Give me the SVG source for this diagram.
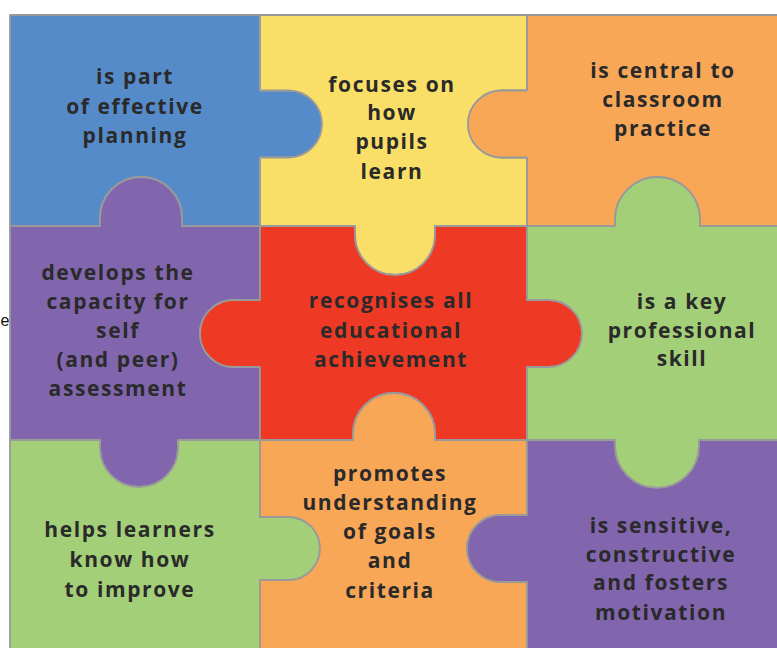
<svg xmlns="http://www.w3.org/2000/svg" width="777" height="648" viewBox="0 0 777 648">
<style>
.p{stroke:#9a9a9a;stroke-width:1.8;stroke-linejoin:round}
.blue{fill:#568bc9}
.yellow{fill:#f9df68}
.orange{fill:#f8a757}
.purple{fill:#8165ad}
.green{fill:#a3cf78}
.red{fill:#ee3a24}
.t{font-family:"Open Sans","DejaVu Sans",sans-serif;font-weight:700;font-size:21px;fill:#2a2a2a;text-anchor:middle;letter-spacing:1.6px}
</style>
<rect width="777" height="648" fill="#ffffff"/>
<text x="0.5" y="326" font-family="Liberation Sans, Arial, sans-serif" font-size="16" fill="#111">e</text>
<g id="piece-blue">
<path class="p blue" d="M10,15 H260 V90.5 H288.5 A33.5,33.5 0 0 1 288.5,157.5 H260 V226 H182 V218 A41,41 0 0 0 100,218 V226 H10 Z"/>
<text class="t" x="135" y="84">is part</text>
<text class="t" x="135" y="114">of effective</text>
<text class="t" x="135" y="143">planning</text>
</g>
<g id="piece-yellow">
<path class="p yellow" d="M260,15 H527 V90.5 H501.5 A33.5,33.5 0 0 0 501.5,157.5 H527 V226 H435 V235 A40,40 0 0 1 355,235 V226 H260 V157.5 H288.5 A33.5,33.5 0 0 0 288.5,90.5 H260 Z"/>
<text class="t" x="392" y="92">focuses on</text>
<text class="t" x="392" y="120">how</text>
<text class="t" x="392" y="149">pupils</text>
<text class="t" x="392" y="179">learn</text>
</g>
<g id="piece-orange-top">
<path class="p orange" d="M527,15 H785 V226 H700 V219.5 A42.5,42.5 0 0 0 615,219.5 V226 H527 V157.5 H501.5 A33.5,33.5 0 0 1 501.5,90.5 H527 Z"/>
<text class="t" x="663" y="78">is central to</text>
<text class="t" x="663" y="107">classroom</text>
<text class="t" x="663" y="136">practice</text>
</g>
<g id="piece-purple-left">
<path class="p purple" d="M10,226 H100 V218 A41,41 0 0 1 182,218 V226 H260 V300 H233.5 A33.5,33.5 0 0 0 233.5,367 H260 V440 H178 V448 A39,39 0 0 1 100,448 V440 H10 Z"/>
<text class="t" x="118" y="280">develops the</text>
<text class="t" x="118" y="309">capacity for</text>
<text class="t" x="118" y="338">self</text>
<text class="t" x="118" y="367">(and peer)</text>
<text class="t" x="118" y="396">assessment</text>
</g>
<g id="piece-red">
<path class="p red" d="M260,226 H355 V235 A40,40 0 0 0 435,235 V226 H527 V300 H548.5 A33.5,33.5 0 0 1 548.5,367 H527 V440 H435 V434 A41,41 0 0 0 353,434 V440 H260 V367 H233.5 A33.5,33.5 0 0 1 233.5,300 H260 Z"/>
<text class="t" x="391" y="308">recognises all</text>
<text class="t" x="391" y="338">educational</text>
<text class="t" x="391" y="367">achievement</text>
</g>
<g id="piece-green-right">
<path class="p green" d="M527,226 H615 V219.5 A42.5,42.5 0 0 1 700,219.5 V226 H785 V440 H699 V446 A42,42 0 0 1 615,446 V440 H527 V367 H548.5 A33.5,33.5 0 0 0 548.5,300 H527 Z"/>
<text class="t" x="682" y="309">is a key</text>
<text class="t" x="682" y="338">professional</text>
<text class="t" x="682" y="366">skill</text>
</g>
<g id="piece-green-left">
<path class="p green" d="M10,440 H100 V448 A39,39 0 0 0 178,448 V440 H260 V517 H288.5 A31.5,31.5 0 0 1 288.5,580 H260 V660 H10 Z"/>
<text class="t" x="130" y="537">helps learners</text>
<text class="t" x="130" y="567">know how</text>
<text class="t" x="130" y="597">to improve</text>
</g>
<g id="piece-orange-bottom">
<path class="p orange" d="M260,440 H353 V434 A41,41 0 0 1 435,434 V440 H527 V515 H500.5 A33.5,33.5 0 0 0 500.5,582 H527 V660 H260 V580 H288.5 A31.5,31.5 0 0 0 288.5,517 H260 Z"/>
<text class="t" x="390" y="481">promotes</text>
<text class="t" x="390" y="510">understanding</text>
<text class="t" x="390" y="539">of goals</text>
<text class="t" x="390" y="568">and</text>
<text class="t" x="390" y="598">criteria</text>
</g>
<g id="piece-purple-right">
<path class="p purple" d="M527,440 H615 V446 A42,42 0 0 0 699,446 V440 H785 V660 H527 V582 H500.5 A33.5,33.5 0 0 1 500.5,515 H527 Z"/>
<text class="t" x="661" y="533">is sensitive,</text>
<text class="t" x="661" y="562">constructive</text>
<text class="t" x="661" y="590">and fosters</text>
<text class="t" x="661" y="620">motivation</text>
</g>
<g id="connectors"/>
</svg>
